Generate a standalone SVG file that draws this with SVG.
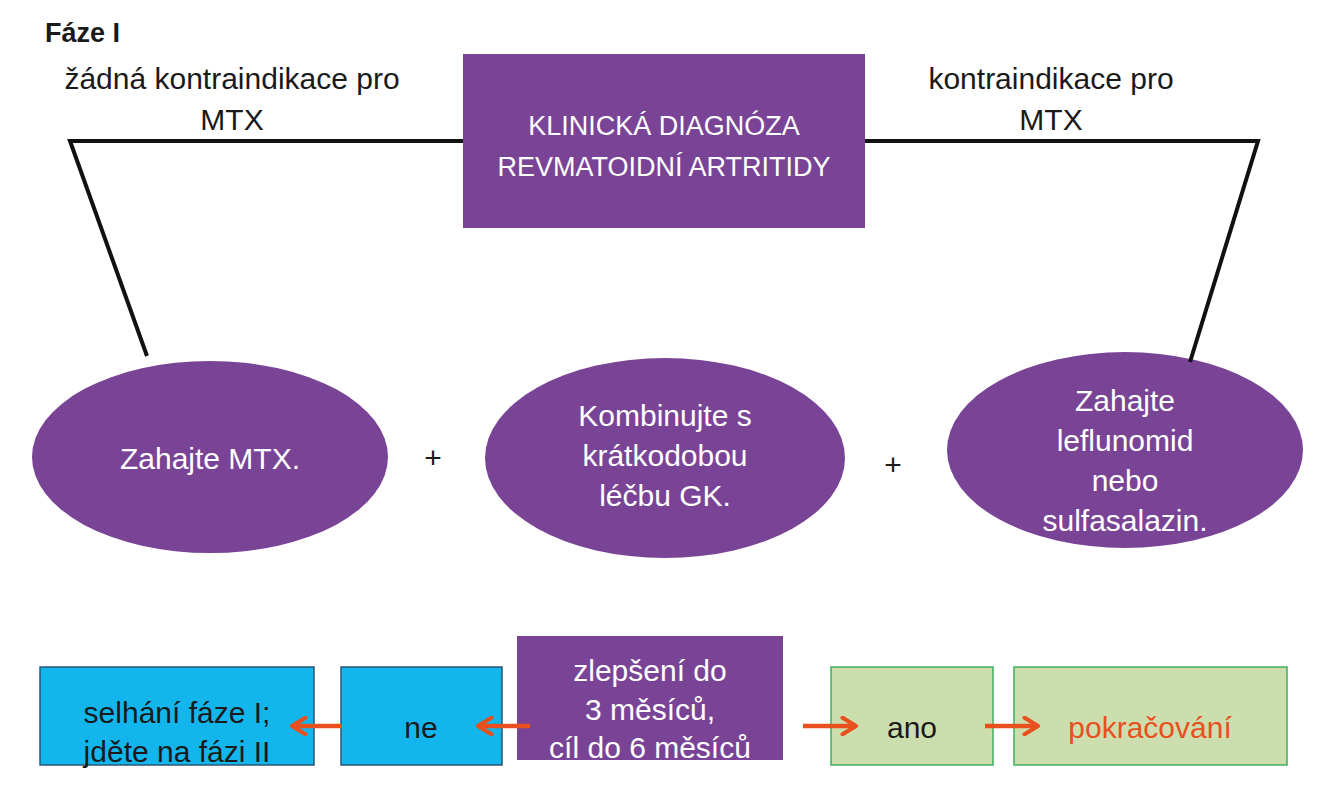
<svg xmlns="http://www.w3.org/2000/svg" width="1319" height="800" viewBox="0 0 1319 800">
<style>
  text { font-family: "Liberation Sans", Arial, sans-serif; font-size: 30px; text-anchor: middle; }
  .caps { font-size: 27px; }
  .w { fill: #ffffff; }
  .k { fill: #1a1a1a; }
  .purple { fill: #7a4496; }
  .blue { fill: #13b6ec; stroke: #2b5675; stroke-width: 1.5; }
  .green { fill: #cddeae; stroke: #3fae5e; stroke-width: 1.5; }
  .line { stroke: #111111; stroke-width: 4; fill: none; }
  .arr { stroke: #e8501e; stroke-width: 4.5; fill: none; marker-end: url(#ah); }
</style>
<defs>
  <marker id="ah" viewBox="0 0 10 10" refX="8" refY="5" markerWidth="4.6" markerHeight="4.6" orient="auto" markerUnits="strokeWidth">
    <path d="M1.5,1 L8,5 L1.5,9" fill="none" stroke="#e8501e" stroke-width="2" stroke-linecap="round" stroke-linejoin="round"/>
  </marker>
</defs>
<rect width="1319" height="800" fill="#ffffff"/>

<g id="title">
  <text x="45" y="42" class="k caps" style="text-anchor:start;font-weight:bold;">Fáze I</text>
</g>

<g id="label-left">
  <text x="232" y="89" class="k">žádná kontraindikace pro</text>
  <text x="232" y="130" class="k">MTX</text>
</g>
<g id="label-right">
  <text x="1051" y="89" class="k">kontraindikace pro</text>
  <text x="1051" y="130" class="k">MTX</text>
</g>

<g id="diagnosis">
  <rect x="463" y="54" width="402" height="174" class="purple"/>
  <text x="664" y="135" class="w caps">KLINICKÁ DIAGNÓZA</text>
  <text x="664" y="176" class="w caps">REVMATOIDNÍ ARTRITIDY</text>
</g>

<g id="mtx">
  <ellipse cx="210" cy="457" rx="178" ry="96" class="purple"/>
  <text x="210" y="469" class="w">Zahajte MTX.</text>
</g>
<g id="plus1">
  <text x="433" y="468" class="k">+</text>
</g>
<g id="gk">
  <ellipse cx="665" cy="458" rx="180" ry="100" class="purple"/>
  <text x="665" y="426" class="w">Kombinujte s</text>
  <text x="665" y="466" class="w">krátkodobou</text>
  <text x="665" y="506" class="w">léčbu GK.</text>
</g>
<g id="plus2">
  <text x="893" y="475" class="k">+</text>
</g>
<g id="lef">
  <ellipse cx="1125" cy="450" rx="178" ry="98" class="purple"/>
  <text x="1125" y="411" class="w">Zahajte</text>
  <text x="1125" y="451" class="w">leflunomid</text>
  <text x="1125" y="491" class="w">nebo</text>
  <text x="1125" y="531" class="w">sulfasalazin.</text>
</g>

<g id="fail">
  <rect x="40" y="667" width="274" height="98" class="blue"/>
  <text x="177" y="723" class="k">selhání fáze I;</text>
  <text x="177" y="762" class="k">jděte na fázi II</text>
</g>
<g id="no">
  <rect x="341" y="667" width="161" height="98" class="blue"/>
  <text x="421" y="738" class="k">ne</text>
</g>
<g id="improve">
  <rect x="517" y="636" width="266" height="124" class="purple"/>
  <text x="650" y="681" class="w">zlepšení do</text>
  <text x="650" y="720" class="w">3 měsíců,</text>
  <text x="650" y="758" class="w">cíl do 6 měsíců</text>
</g>
<g id="yes">
  <rect x="831" y="667" width="162" height="98" class="green"/>
  <text x="912" y="738" class="k">ano</text>
</g>
<g id="continue">
  <rect x="1014" y="667" width="273" height="98" class="green"/>
  <text x="1150" y="738" style="fill:#e8501e;">pokračování</text>
</g>

<g id="connectors">
  <polyline class="line" points="463,141 70,141 147,356"/>
  <polyline class="line" points="865,141 1258,141 1190,362"/>
  <line class="arr" x1="530" y1="726" x2="478" y2="726"/>
  <line class="arr" x1="342" y1="726" x2="292" y2="726"/>
  <line class="arr" x1="803" y1="726" x2="856" y2="726"/>
  <line class="arr" x1="985" y1="726" x2="1038" y2="726"/>
</g>
</svg>
